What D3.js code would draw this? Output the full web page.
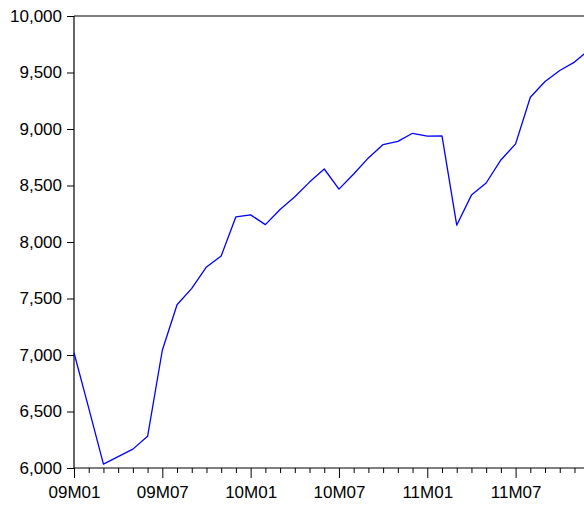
<!DOCTYPE html>
<html>
<head>
<meta charset="utf-8">
<script src="https://cdn.jsdelivr.net/npm/d3@7"></script>
<style>
  html, body { margin: 0; padding: 0; background: #fff; overflow: hidden; }
  svg { display: block; }
  text { font-family: "Liberation Sans", Arial, sans-serif; }
</style>
</head>
<body>
<svg id="chart" width="584" height="507"></svg>
<script>
// Monthly observations 09M01 .. 11M12
const months = [
  "09M01","09M02","09M03","09M04","09M05","09M06","09M07","09M08","09M09","09M10","09M11","09M12",
  "10M01","10M02","10M03","10M04","10M05","10M06","10M07","10M08","10M09","10M10","10M11","10M12",
  "11M01","11M02","11M03","11M04","11M05","11M06","11M07","11M08","11M09","11M10","11M11","11M12"
];
const values = [
  7020, 6530, 6035, 6100, 6167, 6280, 7042, 7445, 7590, 7779, 7877, 8223,
  8240, 8154, 8288, 8400, 8530, 8646, 8468, 8602, 8744, 8862, 8891, 8962,
  8937, 8939, 8149, 8415, 8522, 8726, 8868, 9281, 9420, 9518, 9592, 9700
];
const yTicks = [6000, 6500, 7000, 7500, 8000, 8500, 9000, 9500, 10000];
const xTickLabels = ["09M01","09M07","10M01","10M07","11M01","11M07"];

(function () {
const svg = d3.select("#chart");
const mLeft = 74, mTop = 16, mBottom = 468;
const stepPx = 14.72;
const mRight = mLeft + stepPx * (months.length - 1);

const x = d3.scalePoint().domain(months).range([mLeft, mRight]);
const y = d3.scaleLinear().domain([6000, 10000]).range([mBottom, mTop]);

const fmt = d3.format(",");

// Y axis
const yAxis = d3.axisLeft(y).tickValues(yTicks).tickFormat(fmt).tickSize(7).tickPadding(5);
const gy = svg.append("g").attr("transform", `translate(${mLeft},0)`).call(yAxis);
gy.select(".domain").remove();
gy.selectAll(".tick line").attr("stroke", "#000").attr("stroke-width", 1);
gy.selectAll(".tick text").attr("font-size", 17).attr("fill", "#000")
  .attr("font-family", "'Liberation Sans', Arial, sans-serif");

// X axis: minor ticks every month, major at labels
const xAxis = d3.axisBottom(x).tickValues(months)
  .tickFormat(d => xTickLabels.includes(d) ? d : "")
  .tickSizeInner(5).tickSizeOuter(0).tickPadding(13);
const gx = svg.append("g").attr("transform", `translate(0,${mBottom})`).call(xAxis);
gx.select(".domain").remove();
gx.selectAll(".tick line").attr("stroke", "#000").attr("stroke-width", 1)
  .attr("y2", d => xTickLabels.includes(d) ? 10 : 5);
gx.selectAll(".tick text").attr("font-size", 17).attr("fill", "#000")
  .attr("font-family", "'Liberation Sans', Arial, sans-serif");

// Frame lines
svg.append("line").attr("x1", mLeft).attr("x2", 584).attr("y1", mBottom).attr("y2", mBottom)
  .attr("stroke", "#000").attr("stroke-width", 1.2);
svg.append("line").attr("x1", mLeft).attr("x2", 584).attr("y1", mTop).attr("y2", mTop)
  .attr("stroke", "#000").attr("stroke-width", 1.2);
svg.append("line").attr("x1", mLeft).attr("x2", mLeft).attr("y1", mTop).attr("y2", mBottom)
  .attr("stroke", "#000").attr("stroke-width", 1.2);

// Series line
const line = d3.line().x((d, i) => x(months[i])).y(d => y(d));
svg.append("path").datum(values)
  .attr("d", line)
  .attr("fill", "none")
  .attr("stroke", "#0000ff")
  .attr("stroke-width", 1.3)
  .attr("stroke-linejoin", "round");
})();
</script>
</body>
</html>
